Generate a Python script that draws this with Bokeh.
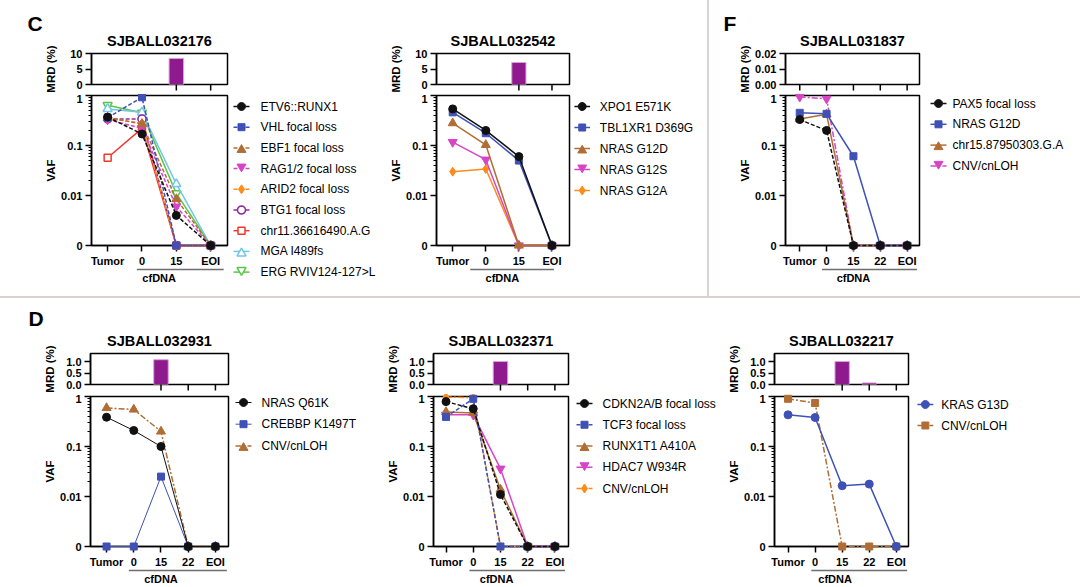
import math
from bokeh.plotting import figure
from bokeh.layouts import row, column
from bokeh.models import Range1d, FixedTicker, Div
from bokeh.core.properties import value
from bokeh.embed import file_html
from bokeh.resources import INLINE

# ===================== data =====================
CATS_C = ["Tumor", "0", "15", "EOI"]
CATS_D = ["Tumor", "0", "15", "22", "EOI"]

VAF_TICKS = [0.001, 0.01, 0.1, 1]
VAF_TICK_LABELS = ["0", "0.01", "0.1", "1"]
VAF_MINOR = [0.02, 0.03, 0.04, 0.05, 0.06, 0.07, 0.08, 0.09,
             0.2, 0.3, 0.4, 0.5, 0.6, 0.7, 0.8, 0.9]
VAF_ZERO = 0.001  # a VAF of 0 sits on the "0" tick

# ---- C: SJBALL032176
C1_TITLE = "SJBALL032176"
C1_MRD_CATS = ["15", "EOI"]
C1_MRD = [8.4, 0.0]
C1_MRD_TICK_CATS = ["15", "EOI"]
C1_MRD_TICKS = [0, 5, 10]
C1_MRD_LABELS = ["0", "5", "10"]
C1_NAMES = ["ETV6::RUNX1", "VHL focal loss", "EBF1 focal loss", "RAG1/2 focal loss",
            "ARID2 focal loss", "BTG1 focal loss", "chr11.36616490.A.G", "MGA I489fs",
            "ERG RVIV124-127>L"]
C1_ETV6 = [0.37, 0.17, 0.004, 0]
C1_VHL = [0.36, 0.92, 0, 0]
C1_EBF1 = [0.36, 0.27, 0.0085, 0]
C1_RAG12 = [0.33, 0.22, 0.006, 0]
C1_ARID2 = [0.35, 0.28, 0, 0]
C1_BTG1 = [0.34, 0.34, 0, 0]
C1_CHR11 = [0.057, 0.22, 0, 0]
C1_MGA = [0.54, 0.46, 0.017, 0]
C1_ERG = [0.64, 0.45, 0.011, 0]

# ---- C: SJBALL032542
C2_TITLE = "SJBALL032542"
C2_MRD_CATS = ["15", "EOI"]
C2_MRD = [7.1, 0.0]
C2_MRD_TICK_CATS = ["15", "EOI"]
C2_MRD_TICKS = [0, 5, 10]
C2_MRD_LABELS = ["0", "5", "10"]
C2_NAMES = ["XPO1 E571K", "TBL1XR1 D369G", "NRAS G12D", "NRAS G12S", "NRAS G12A"]
C2_XPO1 = [0.54, 0.20, 0.06, 0]
C2_TBL1XR1 = [0.46, 0.176, 0.05, 0]
C2_G12D = [0.28, 0.103, 0, 0]
C2_G12S = [0.117, 0.052, 0, 0]
C2_G12A = [0.030, 0.034, 0, 0]

# ---- F: SJBALL031837
F_TITLE = "SJBALL031837"
F_MRD_CATS = ["Tumor", "0", "15", "22", "EOI"]
F_MRD = [0, 0, 0, 0, 0]
F_MRD_TICK_CATS = ["Tumor", "0", "15", "22", "EOI"]
F_MRD_TICKS = [0, 0.01, 0.02]
F_MRD_LABELS = ["0.00", "0.01", "0.02"]
F_NAMES = ["PAX5 focal loss", "NRAS G12D", "chr15.87950303.G.A", "CNV/cnLOH"]
F_PAX5 = [0.33, 0.20, 0, 0, 0]
F_NRAS = [0.45, 0.43, 0.061, 0, 0]
F_CHR15 = [0.34, 0.42, 0, 0, 0]
F_CNV = [0.94, 0.86, 0, 0, 0]

# ---- D: SJBALL032931
D1_TITLE = "SJBALL032931"
D1_MRD_CATS = ["15", "22", "EOI"]
D1_MRD = [1.08, 0, 0]
D1_MRD_TICK_CATS = ["15", "22", "EOI"]
D_MRD_TICKS = [0, 0.5, 1.0]
D_MRD_LABELS = ["0.0", "0.5", "1.0"]
D1_NAMES = ["NRAS Q61K", "CREBBP K1497T", "CNV/cnLOH"]
D1_NRAS = [0.385, 0.209, 0.10, 0, 0]
D1_CREBBP = [0, 0, 0.025, 0, 0]
D1_CNV = [0.59, 0.55, 0.20, 0, 0]

# ---- D: SJBALL032371
D2_TITLE = "SJBALL032371"
D2_MRD_CATS = ["15", "22", "EOI"]
D2_MRD = [1.0, 0, 0]
D2_MRD_TICK_CATS = ["15", "22", "EOI"]
D2_NAMES = ["CDKN2A/B focal loss", "TCF3 focal loss", "RUNX1T1 A410A", "HDAC7 W934R", "CNV/cnLOH"]
D2_CDKN2A = [0.79, 0.57, 0.011, 0, 0]
D2_TCF3 = [0.39, 0.90, 0, 0, 0]
D2_RUNX1T1 = [0.49, 0.47, 0.0138, 0, 0]
D2_HDAC7 = [0.43, 0.43, 0.036, 0, 0]
D2_CNV = [0.97, 0.95, 0, 0, 0]

# ---- D: SJBALL032217
D3_TITLE = "SJBALL032217"
D3_MRD_CATS = ["Tumor", "0", "15", "22", "EOI"]
D3_MRD = [0, 0, 1.0, 0.07, 0]
D3_MRD_TICK_CATS = ["15", "22", "EOI"]
D3_NAMES = ["KRAS G13D", "CNV/cnLOH"]
D3_KRAS = [0.43, 0.38, 0.0164, 0.0177, 0]
D3_CNV = [0.90, 0.74, 0, 0, 0]

GROUP_LABEL = "cfDNA"

# ===================== styles =====================
FONT = "Liberation Sans"
BLACK = "#111111"
BLUE = "#3F51B5"
BROWN = "#B06E35"
MAGENTA = "#D844C6"
ORANGE = "#FF8C1A"
PURPLE = "#8E2A9C"
RED = "#F0392B"
CYAN = "#72C6E6"
GREEN = "#5BC54A"
BAR = "#8E1A8E"
BAR_EDGE = "#D9A3D9"
DIVIDER = "#D8D3D1"
BRACKET = "#6E6E6E"
DASH = "4 2"
DASHDOT = "6 2 2 2"


def S(color, marker, dash="solid", hollow=False, lw=1.5):
    size = {"circle": 8, "square": 7, "triangle": 9, "inverted_triangle": 9, "diamond": 9}[marker]
    return dict(c=color, m=marker, dash=dash, hollow=hollow, lw=lw, size=size)


def marker_outline(marker, size):
    """Vertex offsets in pixels (x right, y down) of a marker of the given size."""
    r = size / 2
    if marker == "circle":
        return [(r * math.cos(2 * math.pi * k / 20), r * math.sin(2 * math.pi * k / 20)) for k in range(20)]
    if marker == "square":
        return [(-r, -r), (r, -r), (r, r), (-r, r)]
    if marker == "triangle":
        return [(-r, r), (r, r), (0, -0.732 * r)]
    if marker == "inverted_triangle":
        return [(-r, -r), (r, -r), (0, 0.732 * r)]
    return [(0, r), (r / 1.5, 0), (0, -r), (-r / 1.5, 0)]   # diamond


def text_width(s, size):
    return sum(0.278 if ch == "." else 0.556 for ch in s) * size


def label_standoff(labels):
    return max(0, int(round(22.5 - max(text_width(l, 11) for l in labels))))


def base_style(p):
    p.grid.visible = False
    p.outline_line_color = "black"
    p.outline_line_width = 1.5
    p.outline_line_alpha = 1
    p.background_fill_color = "white"
    p.border_fill_color = "white"
    for ax in [p.xaxis[0], p.yaxis[0]]:
        ax.axis_line_width = 1.5
        ax.axis_line_color = "black"
        ax.major_tick_line_width = 1.5
        ax.major_tick_line_color = "black"
        ax.minor_tick_line_color = "black"
        ax.minor_tick_line_width = 1
        ax.major_tick_in = 0
        ax.major_tick_out = 6
        ax.minor_tick_in = 0
        ax.minor_tick_out = 3
        ax.major_label_text_font = FONT
        ax.major_label_text_font_style = "bold"
        ax.major_label_text_font_size = "11px"
        ax.major_label_text_color = "black"
        ax.major_label_standoff = 3
        ax.axis_label_text_font = FONT
        ax.axis_label_text_font_style = "bold"
        ax.axis_label_text_font_size = "11.5px"
        ax.axis_label_text_color = "black"


def overlay(r):
    r.level = "overlay"   # drawn without the frame clip
    return r


def make_panel(P, G):
    cats = P["cats"]
    n = len(cats)
    xs = list(range(n))
    x0, x1 = G["xr"]
    right = G["w"] - G["left"] - G["fw"]
    px_per = G["fw"] / (x1 - x0)
    mmax = P["mrd_max"]

    # ---------- MRD bar strip ----------
    m = figure(width=G["w"], height=G["mt"] + G["mh"] + G["mb"],
               x_range=Range1d(x0, x1), y_range=Range1d(0, mmax),
               output_backend="svg", toolbar_location=None,
               min_border_left=G["left"], min_border_right=right,
               min_border_top=G["mt"], min_border_bottom=G["mb"])
    base_style(m)
    m.title.text = P["title"]
    m.title.align = "center"
    m.title.text_font = FONT
    m.title.text_font_size = "14.5px"
    m.title.text_font_style = "bold"
    m.title.text_color = "black"
    m.title.standoff = 9
    bx = [cats.index(c) for c, val in zip(P["mrd_cats"], P["mrd"]) if val > 0]
    bt = [val for val in P["mrd"] if val > 0]
    if bx:
        m.vbar(x=bx, top=bt, bottom=0, width=14.5 / px_per,
               fill_color=BAR, line_color=BAR_EDGE, line_width=1)
    m.xaxis.visible = False
    tick_x = [cats.index(c) for c in P["mrd_tick_cats"]]
    overlay(m.segment(x0=tick_x, x1=tick_x, y0=[0] * len(tick_x),
                      y1=[-mmax * 6 / G["mh"]] * len(tick_x),
                      line_color="black", line_width=1.5))
    ya = m.yaxis[0]
    ya.ticker = FixedTicker(ticks=P["mrd_ticks"])
    ya.major_label_overrides = dict(zip(P["mrd_ticks"], P["mrd_labels"]))
    ya.axis_label = "MRD (%)"
    ya.axis_label_standoff = label_standoff(P["mrd_labels"])
    if G.get("letter"):
        lx, ly = G["letter_xy"]
        overlay(m.text(x=[x0 + lx / px_per], y=[mmax * ly / G["mh"]], text=[G["letter"]],
                       text_align="left", text_baseline="middle",
                       text_font=value(FONT), text_font_style="bold",
                       text_font_size="21px", text_color="black"))

    # ---------- VAF lines ----------
    v = figure(width=G["w"], height=G["vt"] + G["vh"] + G["vb"],
               x_range=Range1d(x0, x1), y_range=Range1d(VAF_TICKS[0], VAF_TICKS[-1]),
               y_axis_type="log", output_backend="svg", toolbar_location=None,
               min_border_left=G["left"], min_border_right=right,
               min_border_top=G["vt"], min_border_bottom=G["vb"])
    base_style(v)
    xa = v.xaxis[0]
    xa.ticker = FixedTicker(ticks=xs)
    xa.major_label_overrides = dict(zip(xs, cats))
    ya = v.yaxis[0]
    ya.ticker = FixedTicker(ticks=VAF_TICKS, minor_ticks=VAF_MINOR)
    ya.major_label_overrides = dict(zip(VAF_TICKS, VAF_TICK_LABELS))
    ya.axis_label = "VAF"
    ya.axis_label_standoff = label_standoff(VAF_TICK_LABELS)

    for vals, st in reversed(list(zip(P["series"], P["styles"]))):
        ys = [val if val > 0 else VAF_ZERO for val in vals]
        overlay(v.line(xs, ys, line_color=st["c"], line_width=st["lw"], line_dash=st["dash"]))
        overlay(v.scatter(xs, ys, marker=st["m"], size=st["size"],
                          fill_color="white" if st["hollow"] else st["c"],
                          line_color=st["c"], line_width=1.5 if st["hollow"] else 1))

    decades = len(VAF_TICKS) - 1

    def from_top(px):   # VAF value that lies px pixels below the top of the frame
        return VAF_TICKS[-1] * 10 ** (-px * decades / G["vh"])

    # legend, drawn beside the frame
    lx0 = x1 + G["lg_dx"] / px_per
    lx1 = x1 + (G["lg_dx"] + 16) / px_per
    lxm = (lx0 + lx1) / 2
    ltx = x1 + (G["lg_dx"] + 16 + G["lg_so"]) / px_per
    for i, (name, st) in enumerate(zip(P["names"], P["styles"])):
        off = G["lg_y0"] + i * G["pitch"]
        yy = from_top(off)
        overlay(v.line([lx0, lx1], [yy, yy], line_color=st["c"], line_width=st["lw"],
                       line_dash=st["dash"]))
        pts = marker_outline(st["m"], st["size"])
        overlay(v.patch([lxm + dx / px_per for dx, dy in pts],
                        [from_top(off + dy) for dx, dy in pts],
                        fill_color="white" if st["hollow"] else st["c"],
                        line_color=st["c"], line_width=1.5 if st["hollow"] else 1))
        overlay(v.text(x=[ltx], y=[yy], text=[name], text_align="left", text_baseline="middle",
                       text_font=value(FONT), text_font_size="12px", text_color="black"))

    # group bracket and its label under the time points
    vh_px = G["vh"]
    b0, b1 = G["br"]
    overlay(v.line([b0, b1], [from_top(vh_px + G["br_y"])] * 2, line_color=BRACKET, line_width=1.5))
    overlay(v.text(x=[G["br_tx"]], y=[from_top(vh_px + G["br_ty"])], text=[GROUP_LABEL],
                   text_align="center", text_baseline="middle",
                   text_font=value(FONT), text_font_style="bold",
                   text_font_size="11px", text_color="black"))
    return column(m, v, spacing=0)


TOP_V = dict(mt=53, mh=31, mb=10, vt=1, vh=150, vb=51, br_y=24, br_ty=32)
BOT_V = dict(mt=55, mh=31, mb=10, vt=2, vh=150, vb=41, br_y=24, br_ty=32)

G_C1 = dict(TOP_V, w=387, left=91, fw=136, xr=(-0.47, 3.49), lg_dx=6, lg_y0=11, pitch=20.7,
            lg_so=11, br=(0.85, 3.38), br_tx=1.5, letter="C", letter_xy=(-64, 61))
G_C2 = dict(TOP_V, w=320, left=46, fw=136, xr=(-0.49, 3.53), lg_dx=5, lg_y0=11, pitch=21,
            lg_so=10, br=(0.53, 3.06), br_tx=1.5)
G_F = dict(TOP_V, w=371, left=76, fw=134, xr=(-0.53, 4.46), lg_dx=11, lg_y0=8, pitch=20.8,
           lg_so=6, br=(0.83, 4.37), br_tx=2.0, letter="F", letter_xy=(-62, 61))
G_D1 = dict(BOT_V, w=375, left=90, fw=138, xr=(-0.59, 4.48), lg_dx=7, lg_y0=6, pitch=21.7,
            lg_so=10, br=(0.82, 4.42), br_tx=2.0, letter="D", letter_xy=(-62, 66))
G_D2 = dict(BOT_V, w=350, left=58, fw=135, xr=(-0.46, 4.5), lg_dx=8, lg_y0=7, pitch=21.25,
            lg_so=10, br=(0.86, 4.37), br_tx=1.86)
G_D3 = dict(BOT_V, w=355, left=48, fw=135, xr=(-0.5, 4.45), lg_dx=9, lg_y0=8, pitch=21,
            lg_so=8, br=(0.86, 4.4), br_tx=1.74)

P_C1 = dict(title=C1_TITLE, cats=CATS_C, mrd_cats=C1_MRD_CATS, mrd=C1_MRD, mrd_max=10,
            mrd_tick_cats=C1_MRD_TICK_CATS, mrd_ticks=C1_MRD_TICKS, mrd_labels=C1_MRD_LABELS,
            names=C1_NAMES,
            series=[C1_ETV6, C1_VHL, C1_EBF1, C1_RAG12, C1_ARID2, C1_BTG1, C1_CHR11, C1_MGA, C1_ERG],
            styles=[S(BLACK, "circle", DASH), S(BLUE, "square", DASH), S(BROWN, "triangle", DASH),
                    S(MAGENTA, "inverted_triangle", DASH), S(ORANGE, "diamond", DASH),
                    S(PURPLE, "circle", DASH, True), S(RED, "square", "solid", True),
                    S(CYAN, "triangle", "solid", True), S(GREEN, "inverted_triangle", "solid", True)])
P_C2 = dict(title=C2_TITLE, cats=CATS_C, mrd_cats=C2_MRD_CATS, mrd=C2_MRD, mrd_max=10,
            mrd_tick_cats=C2_MRD_TICK_CATS, mrd_ticks=C2_MRD_TICKS, mrd_labels=C2_MRD_LABELS,
            names=C2_NAMES, series=[C2_XPO1, C2_TBL1XR1, C2_G12D, C2_G12S, C2_G12A],
            styles=[S(BLACK, "circle"), S(BLUE, "square"), S(BROWN, "triangle"),
                    S(MAGENTA, "inverted_triangle"), S(ORANGE, "diamond")])
P_F = dict(title=F_TITLE, cats=CATS_D, mrd_cats=F_MRD_CATS, mrd=F_MRD, mrd_max=0.02,
           mrd_tick_cats=F_MRD_TICK_CATS, mrd_ticks=F_MRD_TICKS, mrd_labels=F_MRD_LABELS,
           names=F_NAMES, series=[F_PAX5, F_NRAS, F_CHR15, F_CNV],
           styles=[S(BLACK, "circle", DASH), S(BLUE, "square"), S(BROWN, "triangle"),
                   S(MAGENTA, "inverted_triangle", DASHDOT)])
P_D1 = dict(title=D1_TITLE, cats=CATS_D, mrd_cats=D1_MRD_CATS, mrd=D1_MRD, mrd_max=1.35,
            mrd_tick_cats=D1_MRD_TICK_CATS, mrd_ticks=D_MRD_TICKS, mrd_labels=D_MRD_LABELS,
            names=D1_NAMES, series=[D1_NRAS, D1_CREBBP, D1_CNV],
            styles=[S(BLACK, "circle", lw=1), S(BLUE, "square", lw=1),
                    S(BROWN, "triangle", DASHDOT)])
P_D2 = dict(title=D2_TITLE, cats=CATS_D, mrd_cats=D2_MRD_CATS, mrd=D2_MRD, mrd_max=1.35,
            mrd_tick_cats=D2_MRD_TICK_CATS, mrd_ticks=D_MRD_TICKS, mrd_labels=D_MRD_LABELS,
            names=D2_NAMES, series=[D2_CDKN2A, D2_TCF3, D2_RUNX1T1, D2_HDAC7, D2_CNV],
            styles=[S(BLACK, "circle", DASH), S(BLUE, "square", DASH), S(BROWN, "triangle"),
                    S(MAGENTA, "inverted_triangle"), S(ORANGE, "diamond", DASHDOT)])
P_D3 = dict(title=D3_TITLE, cats=CATS_D, mrd_cats=D3_MRD_CATS, mrd=D3_MRD, mrd_max=1.35,
            mrd_tick_cats=D3_MRD_TICK_CATS, mrd_ticks=D_MRD_TICKS, mrd_labels=D_MRD_LABELS,
            names=D3_NAMES, series=[D3_KRAS, D3_CNV],
            styles=[S(BLUE, "circle"), S(BROWN, "square", DASHDOT)])

vdiv = Div(text="", width=2, height=296, margin=0, styles={"background-color": DIVIDER})
hdiv = Div(text="", width=1080, height=2, margin=0, styles={"background-color": DIVIDER})

top = row(make_panel(P_C1, G_C1), make_panel(P_C2, G_C2), vdiv, make_panel(P_F, G_F), spacing=0)
bottom = row(make_panel(P_D1, G_D1), make_panel(P_D2, G_D2), make_panel(P_D3, G_D3), spacing=0)
page = column(top, hdiv, bottom, spacing=0)

open("out.html", "w").write(file_html(page, INLINE, "VAF and MRD"))
